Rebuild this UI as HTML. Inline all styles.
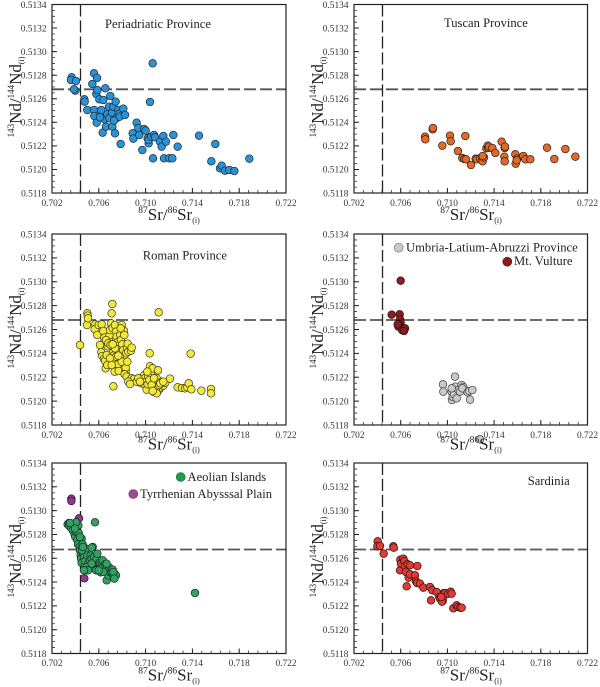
<!DOCTYPE html>
<html><head><meta charset="utf-8"><style>
html,body{margin:0;padding:0;background:#fff;}
svg{display:block;}
text{font-family:"Liberation Serif","DejaVu Serif",serif;}
.tl{font-size:9.4px;fill:#333;}
.tt{font-size:12.6px;fill:#222;}
.at{font-size:17px;fill:#222;}
</style></head><body>
<svg width="600" height="687" viewBox="0 0 600 687" xmlns="http://www.w3.org/2000/svg">
<rect width="600" height="687" fill="#fff"/>

<!-- ===== dashed reference lines ===== -->
<g fill="none">
<path d="M52 89.3H286 M354 89.3H587.5 M52 320H286 M354 320H587.5 M52 549.5H286 M354 549.5H587.5" stroke="#555" stroke-width="1.8" stroke-dasharray="12 4"/>
<path d="M80.5 4.5V193 M382.5 4.5V193 M80.5 234V425 M382.5 234V425 M80.5 463V653.5 M382.5 463V653.5" stroke="#222" stroke-width="1.3" stroke-dasharray="12 4"/>
</g>

<!-- ===== Panel A points ===== -->
<g transform="scale(0.33333)" fill="#2a93d5" stroke="#1c2633" stroke-width="2.1">
<circle cx="215" cy="232" r="11.5"/><circle cx="213" cy="240" r="11.5"/><circle cx="228" cy="243" r="11.5"/><circle cx="226" cy="272" r="11.5"/><circle cx="222" cy="268" r="11.5"/>
<circle cx="253" cy="298" r="11.5"/><circle cx="254" cy="305" r="11.5"/><circle cx="262" cy="330" r="11.5"/><circle cx="282" cy="220" r="11.5"/><circle cx="277" cy="252" r="11.5"/>
<circle cx="291" cy="234" r="11.5"/><circle cx="289" cy="282" r="11.5"/><circle cx="292" cy="270" r="11.5"/><circle cx="298" cy="298" r="11.5"/><circle cx="316" cy="265" r="11.5"/>
<circle cx="331" cy="288" r="11.5"/><circle cx="282" cy="330" r="11.5"/><circle cx="283" cy="348" r="11.5"/><circle cx="290" cy="368" r="11.5"/><circle cx="302" cy="340" r="11.5"/>
<circle cx="304" cy="330" r="11.5"/><circle cx="308" cy="398" r="11.5"/><circle cx="314" cy="358" r="11.5"/><circle cx="318" cy="380" r="11.5"/><circle cx="322" cy="343" r="11.5"/>
<circle cx="327" cy="320" r="11.5"/><circle cx="328" cy="355" r="11.5"/><circle cx="336" cy="338" r="11.5"/><circle cx="340" cy="320" r="11.5"/><circle cx="337" cy="380" r="11.5"/>
<circle cx="347" cy="305" r="11.5"/><circle cx="345" cy="400" r="11.5"/><circle cx="349" cy="355" r="11.5"/><circle cx="355" cy="330" r="11.5"/><circle cx="357" cy="342" r="11.5"/>
<circle cx="359" cy="350" r="11.5"/><circle cx="370" cy="326" r="11.5"/><circle cx="375" cy="345" r="11.5"/><circle cx="362" cy="432" r="11.5"/><circle cx="342" cy="362" r="11.5"/>
<circle cx="310" cy="300" r="11.5"/><circle cx="300" cy="352" r="11.5"/>
<circle cx="398" cy="400" r="11.5"/><circle cx="400" cy="416" r="11.5"/><circle cx="410" cy="368" r="11.5"/><circle cx="415" cy="384" r="11.5"/><circle cx="418" cy="405" r="11.5"/>
<circle cx="427" cy="450" r="11.5"/><circle cx="432" cy="387" r="11.5"/><circle cx="437" cy="392" r="11.5"/><circle cx="443" cy="415" r="11.5"/><circle cx="446" cy="430" r="11.5"/>
<circle cx="446" cy="420" r="11.5"/><circle cx="450" cy="306" r="11.5"/><circle cx="454" cy="410" r="11.5"/><circle cx="458" cy="190" r="11.5"/><circle cx="459" cy="475" r="11.5"/>
<circle cx="462" cy="405" r="11.5"/><circle cx="465" cy="412" r="11.5"/><circle cx="480" cy="425" r="11.5"/><circle cx="485" cy="440" r="11.5"/><circle cx="490" cy="408" r="11.5"/>
<circle cx="492" cy="475" r="11.5"/><circle cx="498" cy="425" r="11.5"/><circle cx="508" cy="475" r="11.5"/><circle cx="517" cy="475" r="11.5"/><circle cx="520" cy="405" r="11.5"/>
<circle cx="533" cy="440" r="11.5"/><circle cx="597" cy="407" r="11.5"/><circle cx="634" cy="484" r="11.5"/><circle cx="646" cy="432" r="11.5"/><circle cx="660" cy="505" r="11.5"/>
<circle cx="665" cy="497" r="11.5"/><circle cx="675" cy="512" r="11.5"/><circle cx="688" cy="510" r="11.5"/><circle cx="703" cy="513" r="11.5"/><circle cx="748" cy="476" r="11.5"/>
</g>

<!-- ===== Panel B points ===== -->
<g transform="translate(300,0) scale(0.33333)" fill="#e26a28" stroke="#2a1a12" stroke-width="2.1">
<circle cx="375" cy="410" r="11.5"/><circle cx="376" cy="418" r="11.5"/><circle cx="398" cy="388" r="11.5"/><circle cx="399" cy="384" r="11.5"/><circle cx="427" cy="437" r="11.5"/>
<circle cx="450" cy="407" r="11.5"/><circle cx="452" cy="424" r="11.5"/><circle cx="474" cy="453" r="11.5"/><circle cx="487" cy="474" r="11.5"/><circle cx="493" cy="477" r="11.5"/>
<circle cx="496" cy="408" r="11.5"/><circle cx="513" cy="495" r="11.5"/><circle cx="498" cy="478" r="11.5"/><circle cx="527" cy="476" r="11.5"/><circle cx="530" cy="478" r="11.5"/>
<circle cx="540" cy="475" r="11.5"/><circle cx="546" cy="473" r="11.5"/><circle cx="548" cy="484" r="11.5"/><circle cx="552" cy="472" r="11.5"/><circle cx="548" cy="468" r="11.5"/>
<circle cx="559" cy="445" r="11.5"/><circle cx="563" cy="437" r="11.5"/><circle cx="565" cy="444" r="11.5"/><circle cx="567" cy="440" r="11.5"/><circle cx="577" cy="444" r="11.5"/>
<circle cx="586" cy="459" r="11.5"/><circle cx="605" cy="425" r="11.5"/><circle cx="614" cy="444" r="11.5"/><circle cx="615" cy="440" r="11.5"/><circle cx="613" cy="470" r="11.5"/>
<circle cx="614" cy="484" r="11.5"/><circle cx="646" cy="463" r="11.5"/><circle cx="647" cy="491" r="11.5"/><circle cx="651" cy="476" r="11.5"/><circle cx="650" cy="481" r="11.5"/>
<circle cx="670" cy="468" r="11.5"/><circle cx="676" cy="478" r="11.5"/><circle cx="691" cy="478" r="11.5"/><circle cx="741" cy="443" r="11.5"/><circle cx="763" cy="477" r="11.5"/>
<circle cx="796" cy="447" r="11.5"/><circle cx="826" cy="470" r="11.5"/>
</g>

<!-- ===== Panel C points ===== -->
<g transform="translate(0,225) scale(0.33333)" fill="#f2e93c" stroke="#3a3618" stroke-width="2.1">
<circle cx="240" cy="360" r="11.5"/><circle cx="262" cy="265" r="11.5"/><circle cx="263" cy="272" r="11.5"/><circle cx="261" cy="300" r="11.5"/><circle cx="264" cy="280" r="11.5"/>
<circle cx="286" cy="298" r="11.5"/><circle cx="284" cy="313" r="11.5"/><circle cx="292" cy="330" r="11.5"/><circle cx="296" cy="300" r="11.5"/><circle cx="305" cy="298" r="11.5"/>
<circle cx="310" cy="318" r="11.5"/><circle cx="313" cy="338" r="11.5"/><circle cx="308" cy="356" r="11.5"/><circle cx="304" cy="382" r="11.5"/><circle cx="307" cy="393" r="11.5"/>
<circle cx="312" cy="402" r="11.5"/><circle cx="315" cy="408" r="11.5"/><circle cx="317" cy="430" r="11.5"/><circle cx="320" cy="390" r="11.5"/><circle cx="323" cy="364" r="11.5"/>
<circle cx="326" cy="345" r="11.5"/><circle cx="329" cy="330" r="11.5"/><circle cx="330" cy="315" r="11.5"/><circle cx="333" cy="295" r="11.5"/><circle cx="335" cy="265" r="11.5"/>
<circle cx="337" cy="237" r="11.5"/><circle cx="338" cy="309" r="11.5"/><circle cx="340" cy="380" r="11.5"/><circle cx="341" cy="392" r="11.5"/><circle cx="342" cy="412" r="11.5"/>
<circle cx="344" cy="440" r="11.5"/><circle cx="340" cy="484" r="11.5"/><circle cx="345" cy="300" r="11.5"/><circle cx="348" cy="320" r="11.5"/><circle cx="350" cy="335" r="11.5"/>
<circle cx="352" cy="352" r="11.5"/><circle cx="353" cy="370" r="11.5"/><circle cx="348" cy="395" r="11.5"/><circle cx="354" cy="418" r="11.5"/><circle cx="356" cy="438" r="11.5"/>
<circle cx="357" cy="360" r="11.5"/><circle cx="361" cy="330" r="11.5"/><circle cx="363" cy="345" r="11.5"/><circle cx="367" cy="358" r="11.5"/><circle cx="370" cy="375" r="11.5"/>
<circle cx="365" cy="300" r="11.5"/><circle cx="372" cy="318" r="11.5"/><circle cx="378" cy="385" r="11.5"/><circle cx="376" cy="440" r="11.5"/><circle cx="381" cy="368" r="11.5"/>
<circle cx="383" cy="356" r="11.5"/><circle cx="385" cy="380" r="11.5"/><circle cx="393" cy="377" r="11.5"/><circle cx="395" cy="368" r="11.5"/><circle cx="378" cy="440" r="11.5"/>
<circle cx="377" cy="428" r="11.5"/><circle cx="374" cy="448" r="11.5"/><circle cx="380" cy="455" r="11.5"/><circle cx="393" cy="464" r="11.5"/><circle cx="395" cy="460" r="11.5"/>
<circle cx="402" cy="462" r="11.5"/><circle cx="410" cy="470" r="11.5"/><circle cx="424" cy="475" r="11.5"/><circle cx="433" cy="450" r="11.5"/><circle cx="434" cy="460" r="11.5"/>
<circle cx="435" cy="472" r="11.5"/><circle cx="436" cy="480" r="11.5"/><circle cx="438" cy="470" r="11.5"/><circle cx="440" cy="494" r="11.5"/><circle cx="443" cy="478" r="11.5"/>
<circle cx="446" cy="452" r="11.5"/><circle cx="449" cy="385" r="11.5"/><circle cx="450" cy="424" r="11.5"/><circle cx="452" cy="438" r="11.5"/><circle cx="453" cy="448" r="11.5"/>
<circle cx="455" cy="462" r="11.5"/><circle cx="457" cy="472" r="11.5"/><circle cx="458" cy="430" r="11.5"/><circle cx="460" cy="500" r="11.5"/><circle cx="462" cy="485" r="11.5"/>
<circle cx="465" cy="468" r="11.5"/><circle cx="466" cy="490" r="11.5"/><circle cx="468" cy="478" r="11.5"/><circle cx="470" cy="460" r="11.5"/><circle cx="472" cy="500" r="11.5"/>
<circle cx="474" cy="436" r="11.5"/><circle cx="478" cy="493" r="11.5"/><circle cx="480" cy="488" r="11.5"/><circle cx="485" cy="470" r="11.5"/><circle cx="490" cy="482" r="11.5"/>
<circle cx="496" cy="473" r="11.5"/><circle cx="510" cy="461" r="11.5"/><circle cx="476" cy="262" r="11.5"/><circle cx="533" cy="487" r="11.5"/><circle cx="546" cy="489" r="11.5"/>
<circle cx="555" cy="490" r="11.5"/><circle cx="562" cy="487" r="11.5"/><circle cx="566" cy="475" r="11.5"/><circle cx="572" cy="386" r="11.5"/><circle cx="574" cy="493" r="11.5"/>
<circle cx="604" cy="497" r="11.5"/><circle cx="633" cy="492" r="11.5"/><circle cx="633" cy="505" r="11.5"/><circle cx="445" cy="455" r="11.5"/><circle cx="448" cy="465" r="11.5"/>
<circle cx="442" cy="440" r="11.5"/><circle cx="415" cy="460" r="11.5"/><circle cx="420" cy="470" r="11.5"/><circle cx="318" cy="345" r="11.5"/><circle cx="325" cy="355" r="11.5"/>
<circle cx="332" cy="360" r="11.5"/><circle cx="300" cy="360" r="11.5"/><circle cx="360" cy="395" r="11.5"/><circle cx="365" cy="410" r="11.5"/><circle cx="330" cy="400" r="11.5"/>
<circle cx="322" cy="420" r="11.5"/><circle cx="335" cy="420" r="11.5"/><circle cx="345" cy="370" r="11.5"/><circle cx="355" cy="392" r="11.5"/><circle cx="338" cy="358" r="11.5"/>
<circle cx="362" cy="310" r="11.5"/><circle cx="373" cy="330" r="11.5"/><circle cx="382" cy="410" r="11.5"/><circle cx="385" cy="470" r="11.5"/><circle cx="390" cy="477" r="11.5"/>
<circle cx="455" cy="480" r="11.5"/><circle cx="462" cy="460" r="11.5"/><circle cx="468" cy="495" r="11.5"/><circle cx="470" cy="505" r="11.5"/><circle cx="458" cy="498" r="11.5"/>
<circle cx="478" cy="480" r="11.5"/><circle cx="481" cy="475" r="11.5"/><circle cx="490" cy="470" r="11.5"/>
</g>

<!-- ===== Panel D points ===== -->
<g transform="translate(300,225) scale(0.33333)" fill="#c9c9c9" stroke="#3a3a3a" stroke-width="2.1">
<circle cx="429" cy="478" r="11.5"/><circle cx="430" cy="500" r="11.5"/><circle cx="455" cy="500" r="11.5"/><circle cx="456" cy="525" r="11.5"/><circle cx="458" cy="515" r="11.5"/>
<circle cx="462" cy="508" r="11.5"/><circle cx="465" cy="455" r="11.5"/><circle cx="466" cy="485" r="11.5"/><circle cx="470" cy="520" r="11.5"/><circle cx="475" cy="495" r="11.5"/>
<circle cx="480" cy="500" r="11.5"/><circle cx="485" cy="480" r="11.5"/><circle cx="490" cy="486" r="11.5"/><circle cx="487" cy="490" r="11.5"/><circle cx="503" cy="502" r="11.5"/>
<circle cx="508" cy="498" r="11.5"/><circle cx="510" cy="524" r="11.5"/><circle cx="517" cy="495" r="11.5"/><circle cx="455" cy="490" r="11.5"/><circle cx="540" cy="643" r="11.5"/>
</g>
<g transform="translate(300,225) scale(0.33333)" fill="#8a1d1f" stroke="#2a0c0c" stroke-width="2.1">
<circle cx="302" cy="167" r="11.5"/><circle cx="275" cy="269" r="11.5"/><circle cx="299" cy="268" r="11.5"/><circle cx="300" cy="283" r="11.5"/><circle cx="302" cy="293" r="11.5"/>
<circle cx="297" cy="297" r="11.5"/><circle cx="295" cy="305" r="11.5"/><circle cx="293" cy="298" r="11.5"/><circle cx="307" cy="316" r="11.5"/><circle cx="315" cy="310" r="11.5"/>
<circle cx="312" cy="318" r="11.5"/>
</g>

<!-- ===== Panel E points ===== -->
<g transform="translate(0,457) scale(0.33333)" fill="#8b3b88" stroke="#2a1028" stroke-width="2.1">
<circle cx="214" cy="125" r="11.5"/><circle cx="214" cy="132" r="11.5"/><circle cx="237" cy="184" r="11.5"/><circle cx="253" cy="364" r="11.5"/>
</g>
<g transform="translate(0,457) scale(0.33333)" fill="#33a064" stroke="#122a1c" stroke-width="2.1">
<circle cx="203" cy="202" r="11.5"/><circle cx="207" cy="198" r="11.5"/><circle cx="208" cy="207" r="11.5"/><circle cx="213" cy="212" r="11.5"/><circle cx="218" cy="220" r="11.5"/>
<circle cx="224" cy="232" r="11.5"/><circle cx="226" cy="240" r="11.5"/><circle cx="230" cy="225" r="11.5"/><circle cx="232" cy="250" r="11.5"/><circle cx="234" cy="262" r="11.5"/>
<circle cx="236" cy="228" r="11.5"/><circle cx="239" cy="270" r="11.5"/><circle cx="240" cy="280" r="11.5"/><circle cx="242" cy="295" r="11.5"/><circle cx="243" cy="305" r="11.5"/>
<circle cx="245" cy="318" r="11.5"/><circle cx="245" cy="245" r="11.5"/><circle cx="248" cy="262" r="11.5"/><circle cx="250" cy="290" r="11.5"/><circle cx="252" cy="300" r="11.5"/>
<circle cx="254" cy="325" r="11.5"/><circle cx="256" cy="312" r="11.5"/><circle cx="258" cy="275" r="11.5"/><circle cx="262" cy="296" r="11.5"/><circle cx="265" cy="320" r="11.5"/>
<circle cx="268" cy="330" r="11.5"/><circle cx="270" cy="310" r="11.5"/><circle cx="272" cy="296" r="11.5"/><circle cx="275" cy="305" r="11.5"/><circle cx="278" cy="270" r="11.5"/>
<circle cx="282" cy="300" r="11.5"/><circle cx="285" cy="196" r="11.5"/><circle cx="288" cy="320" r="11.5"/><circle cx="290" cy="305" r="11.5"/><circle cx="292" cy="290" r="11.5"/>
<circle cx="296" cy="330" r="11.5"/><circle cx="298" cy="318" r="11.5"/><circle cx="300" cy="322" r="11.5"/><circle cx="302" cy="346" r="11.5"/><circle cx="305" cy="325" r="11.5"/>
<circle cx="308" cy="310" r="11.5"/><circle cx="312" cy="330" r="11.5"/><circle cx="316" cy="322" r="11.5"/><circle cx="318" cy="338" r="11.5"/><circle cx="320" cy="370" r="11.5"/>
<circle cx="322" cy="346" r="11.5"/><circle cx="325" cy="355" r="11.5"/><circle cx="328" cy="332" r="11.5"/><circle cx="330" cy="345" r="11.5"/><circle cx="335" cy="346" r="11.5"/>
<circle cx="338" cy="338" r="11.5"/><circle cx="340" cy="356" r="11.5"/><circle cx="342" cy="348" r="11.5"/><circle cx="345" cy="352" r="11.5"/><circle cx="348" cy="355" r="11.5"/>
<circle cx="235" cy="205" r="11.5"/><circle cx="228" cy="196" r="11.5"/><circle cx="210" cy="198" r="11.5"/><circle cx="225" cy="215" r="11.5"/><circle cx="240" cy="240" r="11.5"/>
<circle cx="246" cy="280" r="11.5"/><circle cx="260" cy="330" r="11.5"/><circle cx="275" cy="320" r="11.5"/><circle cx="300" cy="335" r="11.5"/><circle cx="310" cy="345" r="11.5"/>
<circle cx="275" cy="272" r="11.5"/><circle cx="288" cy="340" r="11.5"/><circle cx="340" cy="345" r="11.5"/><circle cx="343" cy="365" r="11.5"/><circle cx="320" cy="320" r="11.5"/>
<circle cx="296" cy="340" r="11.5"/><circle cx="264" cy="340" r="11.5"/><circle cx="252" cy="340" r="11.5"/><circle cx="249" cy="270" r="11.5"/><circle cx="585" cy="408" r="11.5"/>
</g>

<!-- ===== Panel F points ===== -->
<g transform="translate(300,457) scale(0.33333)" fill="#e03b34" stroke="#2e0e0c" stroke-width="2.1">
<circle cx="233" cy="253" r="11.5"/><circle cx="232" cy="268" r="11.5"/><circle cx="240" cy="267" r="11.5"/><circle cx="251" cy="290" r="11.5"/><circle cx="280" cy="268" r="11.5"/>
<circle cx="281" cy="272" r="11.5"/><circle cx="301" cy="308" r="11.5"/><circle cx="300" cy="340" r="11.5"/><circle cx="303" cy="320" r="11.5"/><circle cx="310" cy="305" r="11.5"/>
<circle cx="313" cy="312" r="11.5"/><circle cx="315" cy="327" r="11.5"/><circle cx="318" cy="345" r="11.5"/><circle cx="320" cy="388" r="11.5"/><circle cx="323" cy="322" r="11.5"/>
<circle cx="326" cy="362" r="11.5"/><circle cx="330" cy="325" r="11.5"/><circle cx="330" cy="352" r="11.5"/><circle cx="345" cy="355" r="11.5"/><circle cx="348" cy="373" r="11.5"/>
<circle cx="351" cy="378" r="11.5"/><circle cx="352" cy="327" r="11.5"/><circle cx="360" cy="380" r="11.5"/><circle cx="370" cy="392" r="11.5"/><circle cx="390" cy="390" r="11.5"/>
<circle cx="393" cy="430" r="11.5"/><circle cx="397" cy="400" r="11.5"/><circle cx="410" cy="405" r="11.5"/><circle cx="418" cy="420" r="11.5"/><circle cx="420" cy="425" r="11.5"/>
<circle cx="428" cy="432" r="11.5"/><circle cx="430" cy="420" r="11.5"/><circle cx="432" cy="408" r="11.5"/><circle cx="436" cy="408" r="11.5"/><circle cx="445" cy="410" r="11.5"/>
<circle cx="452" cy="404" r="11.5"/><circle cx="455" cy="410" r="11.5"/><circle cx="460" cy="454" r="11.5"/><circle cx="470" cy="445" r="11.5"/><circle cx="475" cy="450" r="11.5"/>
<circle cx="481" cy="452" r="11.5"/><circle cx="485" cy="452" r="11.5"/><circle cx="426" cy="434" r="11.5"/><circle cx="424" cy="420" r="11.5"/>
</g>

<!-- ===== Frames & ticks ===== -->
<g fill="none" stroke="#222" stroke-width="1.2">
<rect x="52" y="4.5" width="234" height="188.5"/>
<rect x="354" y="4.5" width="233.5" height="188.5"/>
<rect x="52" y="234" width="234" height="191"/>
<rect x="354" y="234" width="233.5" height="191"/>
<rect x="52" y="463" width="234" height="190.5"/>
<rect x="354" y="463" width="233.5" height="190.5"/>
</g>
<g fill="none" stroke="#333" stroke-width="3">
<line x1="52" y1="191.5" x2="286" y2="191.5" stroke-dasharray="0.8 8.56" stroke-dashoffset="0.4"/>
<line x1="354" y1="191.5" x2="587.5" y2="191.5" stroke-dasharray="0.8 8.54" stroke-dashoffset="0.4"/>
<line x1="52" y1="423.5" x2="286" y2="423.5" stroke-dasharray="0.8 8.56" stroke-dashoffset="0.4"/>
<line x1="354" y1="423.5" x2="587.5" y2="423.5" stroke-dasharray="0.8 8.54" stroke-dashoffset="0.4"/>
<line x1="52" y1="652" x2="286" y2="652" stroke-dasharray="0.8 8.56" stroke-dashoffset="0.4"/>
<line x1="354" y1="652" x2="587.5" y2="652" stroke-dasharray="0.8 8.54" stroke-dashoffset="0.4"/>
<line x1="53.5" y1="193" x2="53.5" y2="4.5" stroke-dasharray="0.8 5.09" stroke-dashoffset="0.4"/>
<line x1="355.5" y1="193" x2="355.5" y2="4.5" stroke-dasharray="0.8 5.09" stroke-dashoffset="0.4"/>
<line x1="53.5" y1="425" x2="53.5" y2="234" stroke-dasharray="0.8 5.17" stroke-dashoffset="0.4"/>
<line x1="355.5" y1="425" x2="355.5" y2="234" stroke-dasharray="0.8 5.17" stroke-dashoffset="0.4"/>
<line x1="53.5" y1="653.5" x2="53.5" y2="463" stroke-dasharray="0.8 5.15" stroke-dashoffset="0.4"/>
<line x1="355.5" y1="653.5" x2="355.5" y2="463" stroke-dasharray="0.8 5.15" stroke-dashoffset="0.4"/>
</g>
<g fill="none" stroke="#222" stroke-width="1">
<path d="M98.8 193v-5M145.6 193v-5M192.4 193v-5M239.2 193v-5 M400.7 193v-5M447.4 193v-5M494.1 193v-5M540.8 193v-5
M98.8 425v-5M145.6 425v-5M192.4 425v-5M239.2 425v-5 M400.7 425v-5M447.4 425v-5M494.1 425v-5M540.8 425v-5
M98.8 653.5v-5M145.6 653.5v-5M192.4 653.5v-5M239.2 653.5v-5 M400.7 653.5v-5M447.4 653.5v-5M494.1 653.5v-5M540.8 653.5v-5"/>
<path d="M52 169.44h5M52 145.88h5M52 122.31h5M52 98.75h5M52 75.19h5M52 51.63h5M52 28.06h5
M354 169.44h5M354 145.88h5M354 122.31h5M354 98.75h5M354 75.19h5M354 51.63h5M354 28.06h5
M52 401.13h5M52 377.25h5M52 353.38h5M52 329.5h5M52 305.63h5M52 281.75h5M52 257.88h5
M354 401.13h5M354 377.25h5M354 353.38h5M354 329.5h5M354 305.63h5M354 281.75h5M354 257.88h5
M52 629.69h5M52 605.88h5M52 582.06h5M52 558.25h5M52 534.44h5M52 510.63h5M52 486.81h5
M354 629.69h5M354 605.88h5M354 582.06h5M354 558.25h5M354 534.44h5M354 510.63h5M354 486.81h5"/>
</g>

<!-- ===== Y tick labels ===== -->
<g class="tl" text-anchor="end">
<text x="46.5" y="196.3">0.5118</text><text x="46.5" y="172.7">0.5120</text><text x="46.5" y="149.2">0.5122</text><text x="46.5" y="125.6">0.5124</text><text x="46.5" y="102">0.5126</text><text x="46.5" y="78.5">0.5128</text><text x="46.5" y="54.9">0.5130</text><text x="46.5" y="31.4">0.5132</text><text x="46.5" y="7.8">0.5134</text>
<text x="348.5" y="196.3">0.5118</text><text x="348.5" y="172.7">0.5120</text><text x="348.5" y="149.2">0.5122</text><text x="348.5" y="125.6">0.5124</text><text x="348.5" y="102">0.5126</text><text x="348.5" y="78.5">0.5128</text><text x="348.5" y="54.9">0.5130</text><text x="348.5" y="31.4">0.5132</text><text x="348.5" y="7.8">0.5134</text>
<text x="46.5" y="428.3">0.5118</text><text x="46.5" y="404.4">0.5120</text><text x="46.5" y="380.5">0.5122</text><text x="46.5" y="356.7">0.5124</text><text x="46.5" y="332.8">0.5126</text><text x="46.5" y="308.9">0.5128</text><text x="46.5" y="285">0.5130</text><text x="46.5" y="261.2">0.5132</text><text x="46.5" y="237.3">0.5134</text>
<text x="348.5" y="428.3">0.5118</text><text x="348.5" y="404.4">0.5120</text><text x="348.5" y="380.5">0.5122</text><text x="348.5" y="356.7">0.5124</text><text x="348.5" y="332.8">0.5126</text><text x="348.5" y="308.9">0.5128</text><text x="348.5" y="285">0.5130</text><text x="348.5" y="261.2">0.5132</text><text x="348.5" y="237.3">0.5134</text>
<text x="46.5" y="656.8">0.5118</text><text x="46.5" y="633">0.5120</text><text x="46.5" y="609.2">0.5122</text><text x="46.5" y="585.4">0.5124</text><text x="46.5" y="561.6">0.5126</text><text x="46.5" y="537.7">0.5128</text><text x="46.5" y="513.9">0.5130</text><text x="46.5" y="490.1">0.5132</text><text x="46.5" y="466.3">0.5134</text>
<text x="348.5" y="656.8">0.5118</text><text x="348.5" y="633">0.5120</text><text x="348.5" y="609.2">0.5122</text><text x="348.5" y="585.4">0.5124</text><text x="348.5" y="561.6">0.5126</text><text x="348.5" y="537.7">0.5128</text><text x="348.5" y="513.9">0.5130</text><text x="348.5" y="490.1">0.5132</text><text x="348.5" y="466.3">0.5134</text>
</g>

<!-- ===== X tick labels ===== -->
<g class="tl" text-anchor="middle">
<text x="52" y="206">0.702</text><text x="98.8" y="206">0.706</text><text x="145.6" y="206">0.710</text><text x="192.4" y="206">0.714</text><text x="239.2" y="206">0.718</text><text x="286" y="206">0.722</text>
<text x="354" y="206">0.702</text><text x="400.7" y="206">0.706</text><text x="447.4" y="206">0.710</text><text x="494.1" y="206">0.714</text><text x="540.8" y="206">0.718</text><text x="587.5" y="206">0.722</text>
<text x="52" y="438">0.702</text><text x="98.8" y="438">0.706</text><text x="145.6" y="438">0.710</text><text x="192.4" y="438">0.714</text><text x="239.2" y="438">0.718</text><text x="286" y="438">0.722</text>
<text x="354" y="438">0.702</text><text x="400.7" y="438">0.706</text><text x="447.4" y="438">0.710</text><text x="494.1" y="438">0.714</text><text x="540.8" y="438">0.718</text><text x="587.5" y="438">0.722</text>
<text x="52" y="666">0.702</text><text x="98.8" y="666">0.706</text><text x="145.6" y="666">0.710</text><text x="192.4" y="666">0.714</text><text x="239.2" y="666">0.718</text><text x="286" y="666">0.722</text>
<text x="354" y="666">0.702</text><text x="400.7" y="666">0.706</text><text x="447.4" y="666">0.710</text><text x="494.1" y="666">0.714</text><text x="540.8" y="666">0.718</text><text x="587.5" y="666">0.722</text>
</g>

<!-- ===== X axis titles ===== -->
<g class="at" text-anchor="middle">
<text x="169" y="220"><tspan font-size="9.5" dy="-7">87</tspan><tspan dy="7">Sr/</tspan><tspan font-size="9.5" dy="-7">86</tspan><tspan dy="7">Sr</tspan><tspan font-size="8" dy="3">(i)</tspan></text>
<text x="471" y="220"><tspan font-size="9.5" dy="-7">87</tspan><tspan dy="7">Sr/</tspan><tspan font-size="9.5" dy="-7">86</tspan><tspan dy="7">Sr</tspan><tspan font-size="8" dy="3">(i)</tspan></text>
<text x="169" y="449.5"><tspan font-size="9.5" dy="-7">87</tspan><tspan dy="7">Sr/</tspan><tspan font-size="9.5" dy="-7">86</tspan><tspan dy="7">Sr</tspan><tspan font-size="8" dy="3">(i)</tspan></text>
<text x="471" y="449.5"><tspan font-size="9.5" dy="-7">87</tspan><tspan dy="7">Sr/</tspan><tspan font-size="9.5" dy="-7">86</tspan><tspan dy="7">Sr</tspan><tspan font-size="8" dy="3">(i)</tspan></text>
<text x="169" y="680.5"><tspan font-size="9.5" dy="-7">87</tspan><tspan dy="7">Sr/</tspan><tspan font-size="9.5" dy="-7">86</tspan><tspan dy="7">Sr</tspan><tspan font-size="8" dy="3">(i)</tspan></text>
<text x="471" y="680.5"><tspan font-size="9.5" dy="-7">87</tspan><tspan dy="7">Sr/</tspan><tspan font-size="9.5" dy="-7">86</tspan><tspan dy="7">Sr</tspan><tspan font-size="8" dy="3">(i)</tspan></text>
</g>

<!-- ===== Y axis titles ===== -->
<g class="at" text-anchor="middle">
<text transform="translate(21,97) rotate(-90)"><tspan font-size="9" dy="-7">143</tspan><tspan dy="7">Nd/</tspan><tspan font-size="9" dy="-7">144</tspan><tspan dy="7">Nd</tspan><tspan font-size="8" dy="3">(i)</tspan></text>
<text transform="translate(323,97) rotate(-90)"><tspan font-size="9" dy="-7">143</tspan><tspan dy="7">Nd/</tspan><tspan font-size="9" dy="-7">144</tspan><tspan dy="7">Nd</tspan><tspan font-size="8" dy="3">(i)</tspan></text>
<text transform="translate(21,328) rotate(-90)"><tspan font-size="9" dy="-7">143</tspan><tspan dy="7">Nd/</tspan><tspan font-size="9" dy="-7">144</tspan><tspan dy="7">Nd</tspan><tspan font-size="8" dy="3">(i)</tspan></text>
<text transform="translate(323,328) rotate(-90)"><tspan font-size="9" dy="-7">143</tspan><tspan dy="7">Nd/</tspan><tspan font-size="9" dy="-7">144</tspan><tspan dy="7">Nd</tspan><tspan font-size="8" dy="3">(i)</tspan></text>
<text transform="translate(21,557) rotate(-90)"><tspan font-size="9" dy="-7">143</tspan><tspan dy="7">Nd/</tspan><tspan font-size="9" dy="-7">144</tspan><tspan dy="7">Nd</tspan><tspan font-size="8" dy="3">(i)</tspan></text>
<text transform="translate(323,557) rotate(-90)"><tspan font-size="9" dy="-7">143</tspan><tspan dy="7">Nd/</tspan><tspan font-size="9" dy="-7">144</tspan><tspan dy="7">Nd</tspan><tspan font-size="8" dy="3">(i)</tspan></text>
</g>

<!-- ===== Panel titles & legends ===== -->
<g class="tt">
<text x="105" y="28">Periadriatic Province</text>
<text x="444" y="27">Tuscan Province</text>
<text x="142.7" y="259.5">Roman Province</text>
<text x="527.7" y="485">Sardinia</text>
<text x="406" y="251.5">Umbria-Latium-Abruzzi Province</text>
<text x="514" y="265">Mt. Vulture</text>
<text x="187.5" y="481">Aeolian Islands</text>
<text x="140" y="498">Tyrrhenian Abysssal Plain</text>
</g>
<circle cx="398.7" cy="247.7" r="4.5" fill="#c9c9c9" stroke="#777" stroke-width="0.6"/>
<circle cx="507.3" cy="261.7" r="4.5" fill="#8a1d1f" stroke="#5a1010" stroke-width="0.6"/>
<circle cx="180.7" cy="477" r="4.5" fill="#1f9a50" stroke="#176b38" stroke-width="0.6"/>
<circle cx="133.3" cy="494" r="4.5" fill="#a34a8e" stroke="#6e2d60" stroke-width="0.6"/>
</svg>
</body></html>
